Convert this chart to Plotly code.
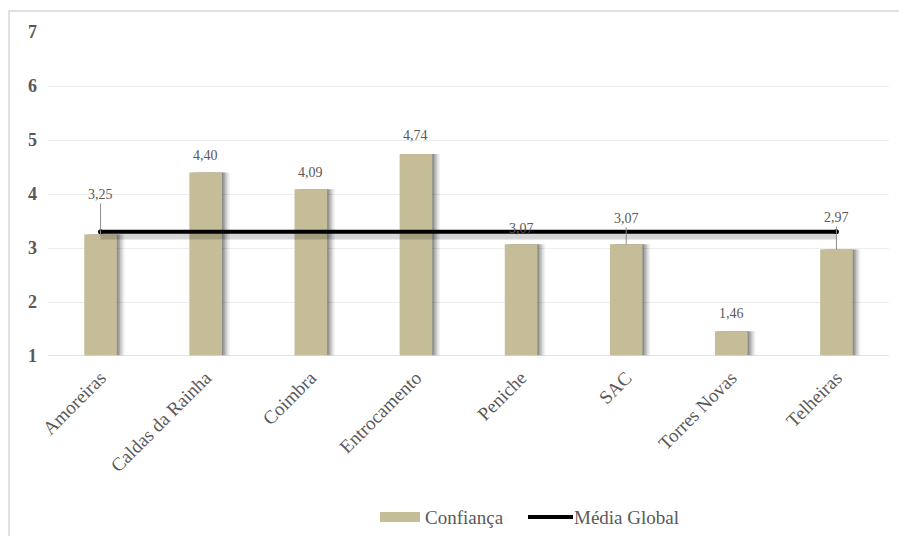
import plotly.graph_objects as go

# Data
lojas = ["Amoreiras", "Caldas da Rainha", "Coimbra", "Entrocamento",
         "Peniche", "SAC", "Torres Novas", "Telheiras"]
confianca = [3.25, 4.40, 4.09, 4.74, 3.07, 3.07, 1.46, 2.97]
media_global = 3.30
y_ticks = [1, 2, 3, 4, 5, 6, 7]

# Label offsets (pixels above bar top) and whether a leader line is drawn
label_shift = [40, 17, 17, 19, 16, 26, 18, 32]
label_leader = [True, False, False, False, False, True, False, True]

BAR = "#C4BD97"
GREY = "#595959"
FONT = "Liberation Serif"

# Plot area in pixels
L, R, T, B = 48, 10, 32, 180
W, H = 899, 536
PW, PH = W - L - R, H - T - B


def px_x(px):
    return (px - L) / PW


def px_y(py):
    return (H - B - py) / PH


fig = go.Figure()

# soft shadow to the right of each bar
for off, alpha in [(0.075, 0.05), (0.06, 0.08), (0.045, 0.11),
                   (0.03, 0.14), (0.015, 0.17)]:
    fig.add_trace(go.Bar(
        x=list(range(len(lojas))), y=[v - 1 for v in confianca], base=1,
        width=0.31, offset=-0.155 + off,
        marker=dict(color=f"rgba(0,0,0,{alpha})", line=dict(width=0)),
        showlegend=False, hoverinfo="skip"))

fig.add_trace(go.Bar(
    x=list(range(len(lojas))), y=[v - 1 for v in confianca], base=1,
    width=0.31, offset=-0.155, name="Confiança",
    marker=dict(color=BAR, line=dict(width=0)), showlegend=False))

# Média Global line with a faint shadow
xs = [0, len(lojas) - 1]
fig.add_trace(go.Scatter(
    x=xs, y=[media_global - 0.07] * 2, mode="lines",
    line=dict(color="rgba(0,0,0,0.16)", width=8), showlegend=False,
    hoverinfo="skip"))
fig.add_trace(go.Scatter(
    x=xs, y=[media_global] * 2, mode="lines+markers", name="Média Global",
    line=dict(color="black", width=4), marker=dict(size=5, color="black"),
    showlegend=False))

# Value labels
for i, v in enumerate(confianca):
    txt = f"{v:.2f}".replace(".", ",")
    if label_leader[i]:
        fig.add_annotation(x=i, y=v, text=txt, showarrow=True, arrowhead=0,
                           arrowwidth=1, arrowcolor="#8c8c8c", ax=0,
                           ay=-label_shift[i], standoff=0,
                           font=dict(family=FONT, size=14, color=GREY))
    else:
        fig.add_annotation(x=i, y=v, text=txt, showarrow=False,
                           yshift=label_shift[i],
                           font=dict(family=FONT, size=14, color=GREY))

# Custom legend
fig.add_shape(type="rect", xref="paper", yref="paper",
              x0=px_x(380), x1=px_x(420), y0=px_y(522), y1=px_y(512),
              fillcolor=BAR, line=dict(width=0))
fig.add_annotation(xref="paper", yref="paper", x=px_x(423), y=px_y(517),
                   text="Confiança", showarrow=False, xanchor="left",
                   yanchor="middle",
                   font=dict(family=FONT, size=19, color=GREY))
fig.add_shape(type="line", xref="paper", yref="paper",
              x0=px_x(528), x1=px_x(573), y0=px_y(517), y1=px_y(517),
              line=dict(color="black", width=4))
fig.add_annotation(xref="paper", yref="paper", x=px_x(572), y=px_y(517),
                   text="Média Global", showarrow=False, xanchor="left",
                   yanchor="middle",
                   font=dict(family=FONT, size=19, color=GREY))

# Outer frame
fig.add_shape(type="rect", xref="paper", yref="paper",
              x0=px_x(9), x1=px_x(905), y0=px_y(545), y1=px_y(11),
              line=dict(color="#D9D9D9", width=1.5), fillcolor="rgba(0,0,0,0)",
              layer="below")

fig.update_layout(
    width=W, height=H,
    margin=dict(l=L, r=R, t=T, b=B),
    paper_bgcolor="white", plot_bgcolor="white",
    barmode="overlay",
    showlegend=False,
    font=dict(family=FONT, color=GREY),
    xaxis=dict(
        tickmode="array", tickvals=list(range(len(lojas))), ticktext=lojas,
        range=[-0.5, len(lojas) - 0.5], tickangle=-45,
        tickfont=dict(family=FONT, size=19, color=GREY),
        showgrid=False, zeroline=False, showline=False, ticks="",
        ticklabelstandoff=6),
    yaxis=dict(
        range=[1, 7], tickvals=y_ticks,
        ticktext=[f"<b>{t}</b>" for t in y_ticks],
        tickfont=dict(family=FONT, size=18, color=GREY),
        showgrid=True, gridcolor="#EDEDED", gridwidth=1,
        zeroline=False, showline=False, ticks="", ticklabelstandoff=10),
)

# baseline at y = 1
fig.add_shape(type="line", xref="paper", yref="y", x0=0, x1=1, y0=1, y1=1,
              line=dict(color="#D9D9D9", width=1.5))

fig.write_html("out.html")
